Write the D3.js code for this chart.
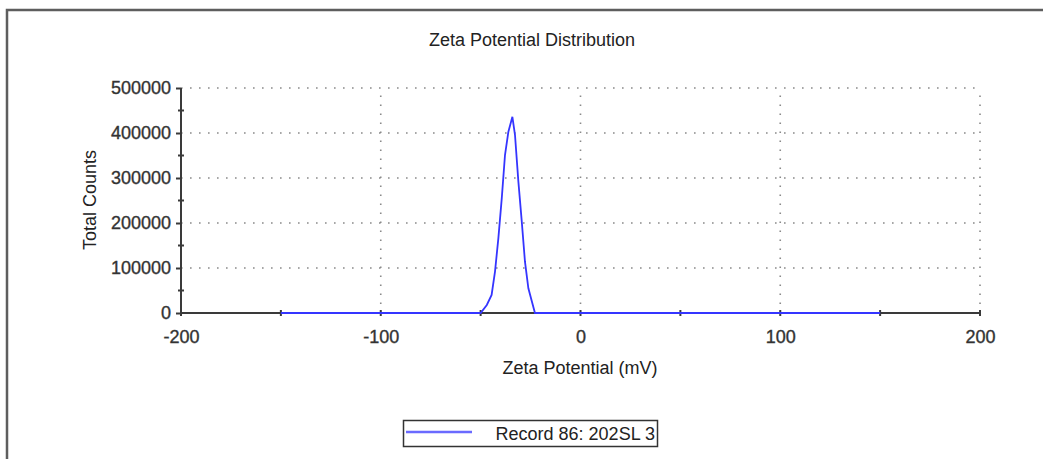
<!DOCTYPE html>
<html>
<head>
<meta charset="utf-8">
<script src="https://cdn.jsdelivr.net/npm/d3@7"></script>
<style>
  html, body { margin: 0; padding: 0; background: #fff; }
  svg { display: block; font-family: "Liberation Sans", Arial, sans-serif; }
</style>
</head>
<body>
<svg id="chart" width="1043" height="459"></svg>
<script>
// zeta potential (mV) and total counts
const zeta = [-150, -100, -50, -46.9, -44.5, -42.8, -41.1, -39.4, -37.8, -36.1, -34.1,
  -32.8, -31.1, -29.4, -27.8, -26.1, -22.8, 0, 50, 100, 150];
const counts = [0, 0, 0, 17800, 40000, 92000, 167000, 256000, 351000, 403000, 436000,
  396000, 292000, 203000, 114000, 55000, 0, 0, 0, 0, 0];
const xTicks = [-200, -100, 0, 100, 200];
const yTicks = [0, 100000, 200000, 300000, 400000, 500000];
const seriesName = "Record 86: 202SL 3";

const svg = d3.select("#chart");
const W = 1043, H = 459;
const fs = 18;

// outer frame (runs off the right and bottom)
svg.append("path")
  .attr("d", `M7,${H + 5}V10H${W + 5}`)
  .attr("fill", "none").attr("stroke", "#5e5e5e").attr("stroke-width", 2.5);

const x = d3.scaleLinear().domain([-200, 200]).range([181, 980]);
const y = d3.scaleLinear().domain([0, 500000]).range([313, 88]);

svg.append("text").attr("x", 532).attr("y", 46).attr("text-anchor", "middle")
  .attr("font-size", fs).attr("fill", "#222").text("Zeta Potential Distribution");

// dotted grid
const grid = svg.append("g").attr("stroke", "#8a8a8a").attr("stroke-width", 1.6)
  .attr("stroke-dasharray", "1.6,7.4");
grid.selectAll(".gy").data(yTicks.filter(d => d > 0)).join("line")
  .attr("x1", x(-200)).attr("x2", x(200)).attr("y1", d => y(d)).attr("y2", d => y(d));
grid.selectAll(".gx").data(xTicks.filter(d => d > -200)).join("line")
  .attr("x1", d => x(d)).attr("x2", d => x(d)).attr("y1", y(0)).attr("y2", y(500000));

// axes
const axisColor = "#3a3a3a";
const yAxis = svg.append("g").attr("transform", `translate(${x(-200)},0)`)
  .call(d3.axisLeft(y).tickValues(yTicks).tickSize(5).tickPadding(5).tickFormat(d => String(d)));
const xAxis = svg.append("g").attr("transform", `translate(0,${y(0)})`)
  .call(d3.axisBottom(x).tickValues(xTicks).tickSize(0).tickPadding(17).tickFormat(d => String(d)));
[yAxis, xAxis].forEach(a => {
  a.select(".domain").attr("stroke", axisColor).attr("stroke-width", 2);
  a.selectAll(".tick line").attr("stroke", axisColor).attr("stroke-width", 2);
  a.selectAll(".tick text").attr("fill", "#333").attr("font-size", 18)
    .attr("font-family", "Liberation Sans, Arial, sans-serif")
    .attr("stroke", "#333").attr("stroke-width", 0.35);
});
yAxis.select(".domain").attr("d", `M0,${y(0)}V${y(500000)}`);
xAxis.select(".domain").attr("d", `M${x(-200)},0H${x(200)}`);

// minor ticks crossing the axes
const minorY = d3.range(50000, 500000, 100000);
svg.append("g").selectAll("line").data(minorY).join("line")
  .attr("x1", x(-200) - 3).attr("x2", x(-200) + 3)
  .attr("y1", d => y(d)).attr("y2", d => y(d))
  .attr("stroke", axisColor).attr("stroke-width", 2);
const minorX = d3.range(-200, 201, 50);
svg.append("g").selectAll("line").data(minorX).join("line")
  .attr("x1", d => x(d)).attr("x2", d => x(d))
  .attr("y1", y(0) - 3).attr("y2", y(0) + 3)
  .attr("stroke", axisColor).attr("stroke-width", 2);

// series line
const pts = zeta.map((z, i) => [z, counts[i]]);
svg.append("path").datum(pts)
  .attr("fill", "none").attr("stroke", "#3535ff").attr("stroke-width", 1.8)
  .attr("d", d3.line().x(d => x(d[0])).y(d => y(d[1])));

svg.append("text").attr("x", 580).attr("y", 374).attr("text-anchor", "middle")
  .attr("font-size", fs).attr("fill", "#222").text("Zeta Potential (mV)");

svg.append("text").attr("transform", `translate(96,200) rotate(-90)`)
  .attr("text-anchor", "middle").attr("font-size", fs).attr("fill", "#222").text("Total Counts");

// legend
const lg = svg.append("g");
lg.append("rect").attr("x", 403.5).attr("y", 420.5).attr("width", 254).attr("height", 26)
  .attr("fill", "#fff").attr("stroke", "#333").attr("stroke-width", 1.5);
lg.append("line").attr("x1", 406).attr("x2", 472).attr("y1", 432).attr("y2", 432)
  .attr("stroke", "#6a6aff").attr("stroke-width", 2.5);
lg.append("text").attr("x", 655).attr("y", 440).attr("text-anchor", "end")
  .attr("font-size", 18).attr("fill", "#222").text(seriesName);
</script>
</body>
</html>
